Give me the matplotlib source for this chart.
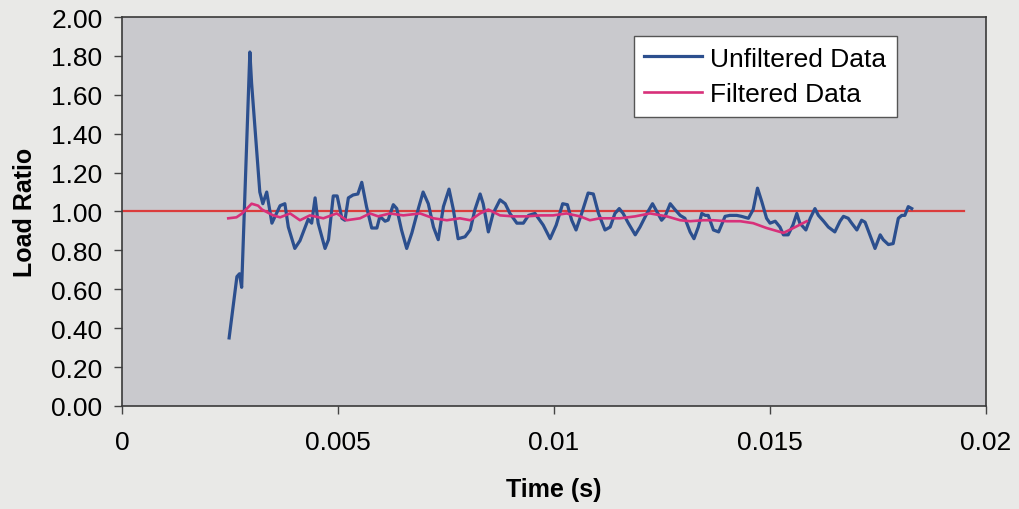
import matplotlib
matplotlib.use("Agg")
import matplotlib.pyplot as plt
from matplotlib.ticker import FuncFormatter, MultipleLocator

plt.rcParams["font.family"] = ["Liberation Sans", "DejaVu Sans"]

# unfiltered load ratio
t_unf = [0.00248, 0.00266, 0.00272, 0.00277, 0.00296, 0.00300, 0.00319, 0.00326,
         0.00335, 0.00347, 0.00366, 0.00377, 0.00385, 0.00400, 0.00412, 0.00431,
         0.00439, 0.00447, 0.00454, 0.00470, 0.00478, 0.00489, 0.00498, 0.00509,
         0.00516, 0.00524, 0.00535, 0.00546, 0.00555, 0.00566, 0.00578, 0.00590,
         0.00597, 0.00609, 0.00616, 0.00628, 0.00636, 0.00647, 0.00659, 0.00671,
         0.00686, 0.00697, 0.00709, 0.00721, 0.00732, 0.00744, 0.00757, 0.00767,
         0.00778, 0.00794, 0.00806, 0.00817, 0.00829, 0.00836, 0.00848, 0.00859,
         0.00875, 0.00887, 0.00898, 0.00914, 0.00929, 0.00941, 0.00956, 0.00975,
         0.00991, 0.01005, 0.01020, 0.01031, 0.01041, 0.01051, 0.01064, 0.01079,
         0.01091, 0.01103, 0.01118, 0.01130, 0.01141, 0.01151, 0.01160, 0.01172,
         0.01188, 0.01199, 0.01215, 0.01228, 0.01238, 0.01249, 0.01257, 0.01269,
         0.01280, 0.01292, 0.01303, 0.01315, 0.01324, 0.01334, 0.01342, 0.01350,
         0.01357, 0.01369, 0.01381, 0.01396, 0.01407, 0.01423, 0.01434, 0.01450,
         0.01461, 0.01471, 0.01481, 0.01492, 0.01500, 0.01512, 0.01523, 0.01531,
         0.01542, 0.01553, 0.01562, 0.01569, 0.01583, 0.01593, 0.01604, 0.01612,
         0.01624, 0.01635, 0.01650, 0.01662, 0.01670, 0.01681, 0.01689, 0.01701,
         0.01712, 0.01720, 0.01731, 0.01743, 0.01755, 0.01762, 0.01774, 0.01785,
         0.01797, 0.01805, 0.01812, 0.01820, 0.01828]
v_unf = [0.35, 0.665, 0.68, 0.61, 1.82, 1.66, 1.10, 1.04,
         1.10, 0.94, 1.03, 1.04, 0.92, 0.81, 0.85, 0.96,
         0.94, 1.07, 0.94, 0.81, 0.855, 1.08, 1.08, 0.965,
         0.955, 1.07, 1.085, 1.09, 1.15, 1.025, 0.915, 0.915,
         0.975, 0.95, 0.956, 1.035, 1.015, 0.905, 0.81, 0.89,
         1.015, 1.10, 1.04, 0.92, 0.855, 1.025, 1.115, 1.01,
         0.86, 0.87, 0.905, 1.01, 1.09, 1.04, 0.895, 0.99,
         1.06, 1.04, 0.99, 0.94, 0.94, 0.98, 0.99, 0.93,
         0.86, 0.93, 1.04, 1.035, 0.955, 0.905, 0.99, 1.095,
         1.09, 0.99, 0.905, 0.92, 0.99, 1.015, 0.99, 0.94,
         0.88, 0.92, 0.99, 1.04, 1.0, 0.955, 0.975, 1.04,
         1.01, 0.98, 0.965, 0.895, 0.86, 0.92, 0.99, 0.98,
         0.98, 0.905, 0.895, 0.975, 0.98, 0.98, 0.975, 0.965,
         1.01, 1.12, 1.05, 0.965, 0.94, 0.95, 0.92, 0.88,
         0.88, 0.93, 0.99, 0.94, 0.905, 0.965, 1.015, 0.98,
         0.95, 0.92, 0.895, 0.95, 0.975, 0.965, 0.94, 0.905,
         0.955, 0.945, 0.88, 0.81, 0.88, 0.855, 0.83, 0.835,
         0.965, 0.98, 0.98, 1.025, 1.015]

# filtered load ratio
t_fil = [0.00246, 0.00265, 0.00278, 0.00300, 0.00315, 0.00324, 0.00350, 0.00366,
         0.00389, 0.00412, 0.00435, 0.00466, 0.00497, 0.00520, 0.00551, 0.00574,
         0.00593, 0.00620, 0.00651, 0.00690, 0.00721, 0.00752, 0.00782, 0.00806,
         0.00829, 0.00848, 0.00875, 0.00906, 0.00937, 0.00968, 0.00998, 0.01029,
         0.01060, 0.01083, 0.01106, 0.01153, 0.01188, 0.01222, 0.01261, 0.01292,
         0.01315, 0.01346, 0.01369, 0.01400, 0.01431, 0.01461, 0.01492, 0.01531,
         0.01554, 0.01585]
v_fil = [0.965, 0.97, 0.99, 1.04, 1.03, 1.01, 0.98, 0.97,
         0.99, 0.955, 0.98, 0.965, 0.99, 0.955, 0.965, 0.99,
         0.975, 0.99, 0.98, 0.99, 0.965, 0.955, 0.965, 0.955,
         0.99, 1.01, 0.98, 0.975, 0.975, 0.98, 0.98, 0.99,
         0.975, 0.955, 0.965, 0.965, 0.975, 0.99, 0.975, 0.955,
         0.95, 0.955, 0.955, 0.95, 0.95, 0.94, 0.915, 0.89,
         0.915, 0.95]

# reference line at a load ratio of one
t_ref = [0.0, 0.0195]
v_ref = [1.0, 1.0]

fig = plt.figure(figsize=(10.2, 5.1), dpi=100, facecolor="#e9e9e7")
ax = fig.add_axes([0.1196, 0.202, 0.8471, 0.7627])
ax.set_facecolor("#c9c9cd")

ax.plot(t_ref, v_ref, color="#db3c3c", lw=1.6, zorder=2)
ax.plot(t_unf, v_unf, color="#2c4f8e", lw=2.3, label="Unfiltered Data", zorder=3)
ax.plot(t_fil, v_fil, color="#d8307a", lw=1.9, label="Filtered Data", zorder=4)

ax.set_xlim(0, 0.02)
ax.set_ylim(0, 2.0)
ax.xaxis.set_major_locator(MultipleLocator(0.005))
ax.yaxis.set_major_locator(MultipleLocator(0.2))
ax.xaxis.set_major_formatter(FuncFormatter(lambda x, p: "%g" % round(x, 4)))
ax.yaxis.set_major_formatter(FuncFormatter(lambda y, p: "%.2f" % y))
ax.tick_params(axis="both", labelsize=19, direction="out", length=6, width=1,
               color="#444444")
ax.tick_params(axis="y", pad=8)
ax.tick_params(axis="x", pad=11)
for s in ax.spines.values():
    s.set_color("#3a3a3a")
    s.set_linewidth(1.2)

ax.set_xlabel("Time (s)", fontsize=18, fontweight="bold", labelpad=17)
ax.set_ylabel("Load Ratio", fontsize=18, fontweight="bold", labelpad=10)

ax.legend(
    loc="upper right",
    bbox_to_anchor=(0.897, 0.951),
    borderaxespad=0,
    fontsize=19,
    handlelength=2.2,
    handletextpad=0.3,
    labelspacing=0.45,
    borderpad=0.4,
    fancybox=False,
    framealpha=1,
    edgecolor="#555555",
)

plt.savefig("out.png", dpi=100, facecolor=fig.get_facecolor())
